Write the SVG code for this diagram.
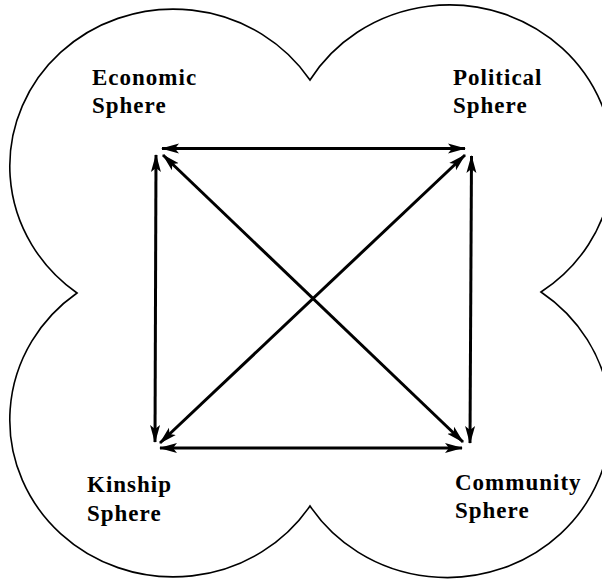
<svg xmlns="http://www.w3.org/2000/svg" width="602" height="580" viewBox="0 0 602 580">
<defs>
<marker id="ah" markerUnits="userSpaceOnUse" markerWidth="19" markerHeight="12" refX="17" refY="5" orient="auto-start-reverse" viewBox="0 0 19 10">
<path d="M0,0 L18,5 L0,10 L4,5 Z" fill="#000"/>
</marker>
<style>
.lbl{font-family:"Liberation Serif",serif;font-weight:bold;font-size:23px;letter-spacing:1px;fill:#000}
.arr{stroke:#000;stroke-width:3;fill:none;marker-start:url(#ah);marker-end:url(#ah)}
</style>
</defs>
<rect width="602" height="580" fill="#fff"/>
<g id="outline">
<path d="M310,80 A163.5,157 0 1 0 77,293 A163.5,157 0 1 0 310,506 A163.5,157 0 1 0 541,292 A163.5,157 0 1 0 310,80 Z" fill="none" stroke="#000" stroke-width="1.6"/>
</g>
<g id="connectors">
<line class="arr" x1="162" y1="148.5" x2="465" y2="148.5"/>
<line class="arr" x1="156" y1="155" x2="155" y2="442"/>
<line class="arr" x1="471.5" y1="156" x2="470" y2="443"/>
<line class="arr" x1="160" y1="448" x2="462" y2="448"/>
<line class="arr" x1="163" y1="155" x2="463" y2="442"/>
<line class="arr" x1="160" y1="443" x2="465" y2="155"/>
</g>
<g id="economic"><text class="lbl" x="92" y="85">Economic</text><text class="lbl" x="92" y="113">Sphere</text></g>
<g id="political"><text class="lbl" x="453" y="85">Political</text><text class="lbl" x="453" y="113">Sphere</text></g>
<g id="kinship"><text class="lbl" x="87" y="492">Kinship</text><text class="lbl" x="87" y="521">Sphere</text></g>
<g id="community"><text class="lbl" x="455" y="490">Community</text><text class="lbl" x="455" y="518">Sphere</text></g>
</svg>
